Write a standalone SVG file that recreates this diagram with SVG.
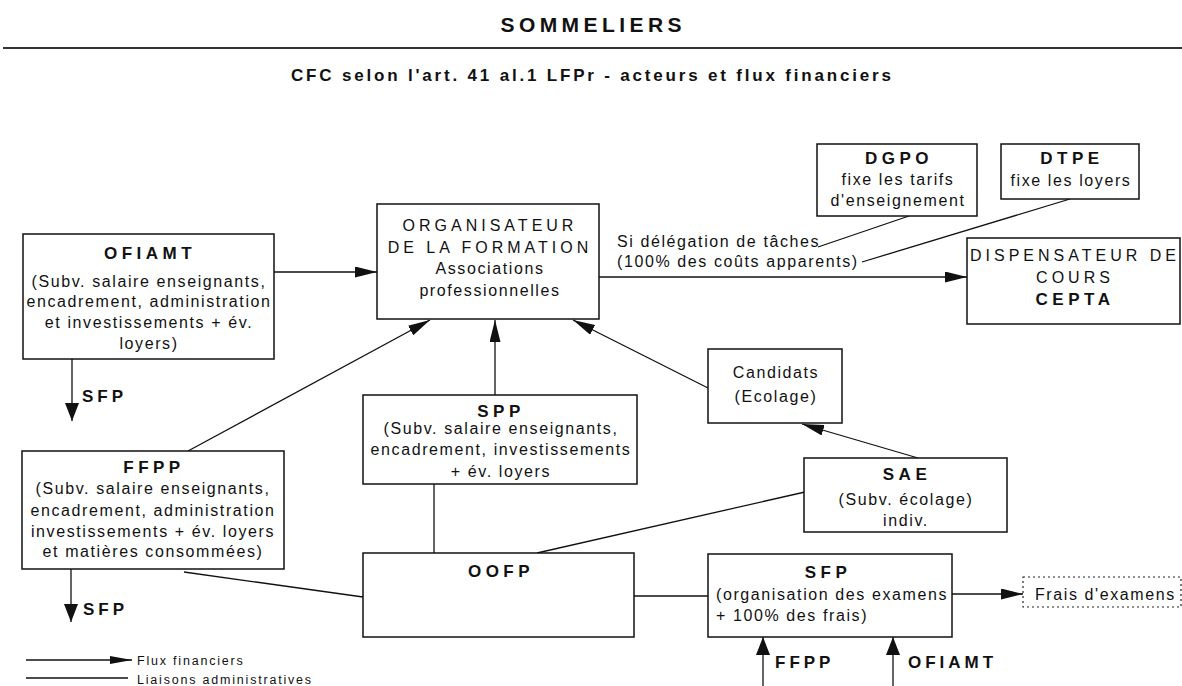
<svg xmlns="http://www.w3.org/2000/svg" width="1182" height="686" viewBox="0 0 1182 686">
<defs>
<style>
text{font-family:"Liberation Sans",Arial,sans-serif;fill:#111;}
.t{font-size:16px;letter-spacing:1.6px;text-anchor:middle;}
.tl{font-size:16px;letter-spacing:1.6px;}
.u{font-size:16px;letter-spacing:4px;text-anchor:middle;}
.h{font-size:17px;font-weight:bold;letter-spacing:4.5px;text-anchor:middle;}
.hl{font-size:17px;font-weight:bold;letter-spacing:4px;}
.lg{font-size:12.5px;letter-spacing:1.8px;}
.box{fill:#fff;stroke:#111;stroke-width:1.5;}
.dash{fill:#fff;stroke:#222;stroke-width:1.2;stroke-dasharray:2 3;}
.c line{stroke:#111;stroke-width:1.3;}
.a{marker-end:url(#ah);}
.b{marker-end:url(#ab);}
</style>
<marker id="ah" markerUnits="userSpaceOnUse" markerWidth="22" markerHeight="11" refX="22" refY="5.5" orient="auto">
<path d="M0,0 L22,5.5 L0,11 z" fill="#111"/>
</marker>
<marker id="ab" markerUnits="userSpaceOnUse" markerWidth="18" markerHeight="14" refX="18" refY="7" orient="auto">
<path d="M0,0 L18,7 L0,14 z" fill="#111"/>
</marker>
<marker id="al" markerUnits="userSpaceOnUse" markerWidth="22" markerHeight="8" refX="22" refY="4" orient="auto">
<path d="M0,0 L22,4 L0,8 z" fill="#111"/>
</marker>
</defs>
<rect width="1182" height="686" fill="#fff"/>

<g id="title">
<text x="591" y="32" font-size="21" font-weight="bold" text-anchor="middle" textLength="181" lengthAdjust="spacing">SOMMELIERS</text>
<line x1="3" y1="48" x2="1182" y2="48" stroke="#333" stroke-width="2"/>
<text x="591" y="81" font-size="17" font-weight="bold" text-anchor="middle" textLength="600" lengthAdjust="spacing">CFC selon l'art. 41 al.1 LFPr - acteurs et flux financiers</text>
</g>

<g id="connectors" class="c">
<line class="a" x1="274" y1="272" x2="377" y2="272"/>
<line class="a" x1="599" y1="277" x2="967" y2="277"/>
<line x1="909" y1="216" x2="818" y2="247"/>
<line x1="1070" y1="199" x2="862" y2="262"/>
<line class="b" x1="72" y1="359" x2="72" y2="421"/>
<line class="a" x1="188" y1="451" x2="430" y2="320"/>
<line class="a" x1="495" y1="395" x2="495" y2="320"/>
<line class="a" x1="708" y1="388" x2="573" y2="320"/>
<line class="a" x1="918" y1="458" x2="802" y2="424"/>
<line x1="434" y1="484" x2="434" y2="553"/>
<line x1="805" y1="492" x2="537" y2="553"/>
<line x1="184" y1="572" x2="363" y2="597"/>
<line class="b" x1="71" y1="569" x2="71" y2="622"/>
<line x1="634" y1="596" x2="708" y2="596"/>
<line class="a" x1="952" y1="594" x2="1023" y2="594"/>
<line class="b" x1="763" y1="686" x2="763" y2="637"/>
<line class="b" x1="893" y1="686" x2="893" y2="637"/>
<line x1="26" y1="660" x2="132" y2="660" marker-end="url(#al)"/>
<line x1="26" y1="678" x2="128" y2="678"/>
</g>

<g id="labels">
<text class="tl" x="617" y="247">Si délégation de tâches</text>
<text class="tl" x="617" y="267">(100% des coûts apparents)</text>
<text class="hl" x="82" y="402">SFP</text>
<text class="hl" x="83" y="615">SFP</text>
<text class="hl" x="775" y="668">FFPP</text>
<text class="hl" x="908" y="668">OFIAMT</text>
<text class="lg" x="137" y="665">Flux financiers</text>
<text class="lg" x="137" y="684">Liaisons administratives</text>
</g>

<g id="ofiamt">
<rect class="box" x="23" y="234" width="251" height="125"/>
<text class="h" x="150" y="259">OFIAMT</text>
<text class="t" x="149" y="287">(Subv. salaire enseignants,</text>
<text class="t" x="149" y="307">encadrement, administration</text>
<text class="t" x="149" y="328">et investissements + év.</text>
<text class="t" x="149" y="349">loyers)</text>
</g>

<g id="organisateur">
<rect class="box" x="377" y="204" width="222" height="115"/>
<text class="u" x="490" y="231">ORGANISATEUR</text>
<text class="u" x="490" y="253">DE LA FORMATION</text>
<text class="t" x="490" y="274">Associations</text>
<text class="t" x="490" y="296">professionnelles</text>
</g>

<g id="dgpo">
<rect class="box" x="817" y="144" width="160" height="72"/>
<text class="h" x="899" y="164">DGPO</text>
<text class="t" x="898" y="185">fixe les tarifs</text>
<text class="t" x="898" y="206">d'enseignement</text>
</g>

<g id="dtpe">
<rect class="box" x="1001" y="144" width="138" height="55"/>
<text class="h" x="1072" y="164">DTPE</text>
<text class="t" x="1071" y="186">fixe les loyers</text>
</g>

<g id="dispensateur">
<rect class="box" x="967" y="238" width="213" height="86"/>
<text class="u" x="1075" y="261">DISPENSATEUR DE</text>
<text class="u" x="1075" y="283">COURS</text>
<text class="h" x="1075" y="305">CEPTA</text>
</g>

<g id="candidats">
<rect class="box" x="708" y="349" width="134" height="74"/>
<text class="t" x="776" y="378">Candidats</text>
<text class="t" x="776" y="402">(Ecolage)</text>
</g>

<g id="spp">
<rect class="box" x="363" y="395" width="274" height="89"/>
<text class="h" x="501" y="417">SPP</text>
<text class="t" x="501" y="434">(Subv. salaire enseignants,</text>
<text class="t" x="501" y="455">encadrement, investissements</text>
<text class="t" x="501" y="477">+ év. loyers</text>
</g>

<g id="sae">
<rect class="box" x="804" y="458" width="203" height="74"/>
<text class="h" x="907" y="480">SAE</text>
<text class="t" x="906" y="505">(Subv. écolage)</text>
<text class="t" x="906" y="526">indiv.</text>
</g>

<g id="ffpp">
<rect class="box" x="22" y="451" width="262" height="118"/>
<text class="h" x="154" y="473">FFPP</text>
<text class="t" x="153" y="494">(Subv. salaire enseignants,</text>
<text class="t" x="153" y="516">encadrement, administration</text>
<text class="t" x="153" y="537">investissements + év. loyers</text>
<text class="t" x="153" y="557">et matières consommées)</text>
</g>

<g id="oofp">
<rect class="box" x="363" y="553" width="271" height="84"/>
<text class="h" x="501" y="577">OOFP</text>
</g>

<g id="sfp">
<rect class="box" x="708" y="554" width="244" height="83"/>
<text class="h" x="828" y="578">SFP</text>
<text class="tl" x="716" y="600">(organisation des examens</text>
<text class="tl" x="716" y="621">+ 100% des frais)</text>
</g>

<g id="frais">
<rect class="dash" x="1023" y="577" width="158" height="30"/>
<text class="tl" x="1035" y="600">Frais d'examens</text>
</g>
</svg>
